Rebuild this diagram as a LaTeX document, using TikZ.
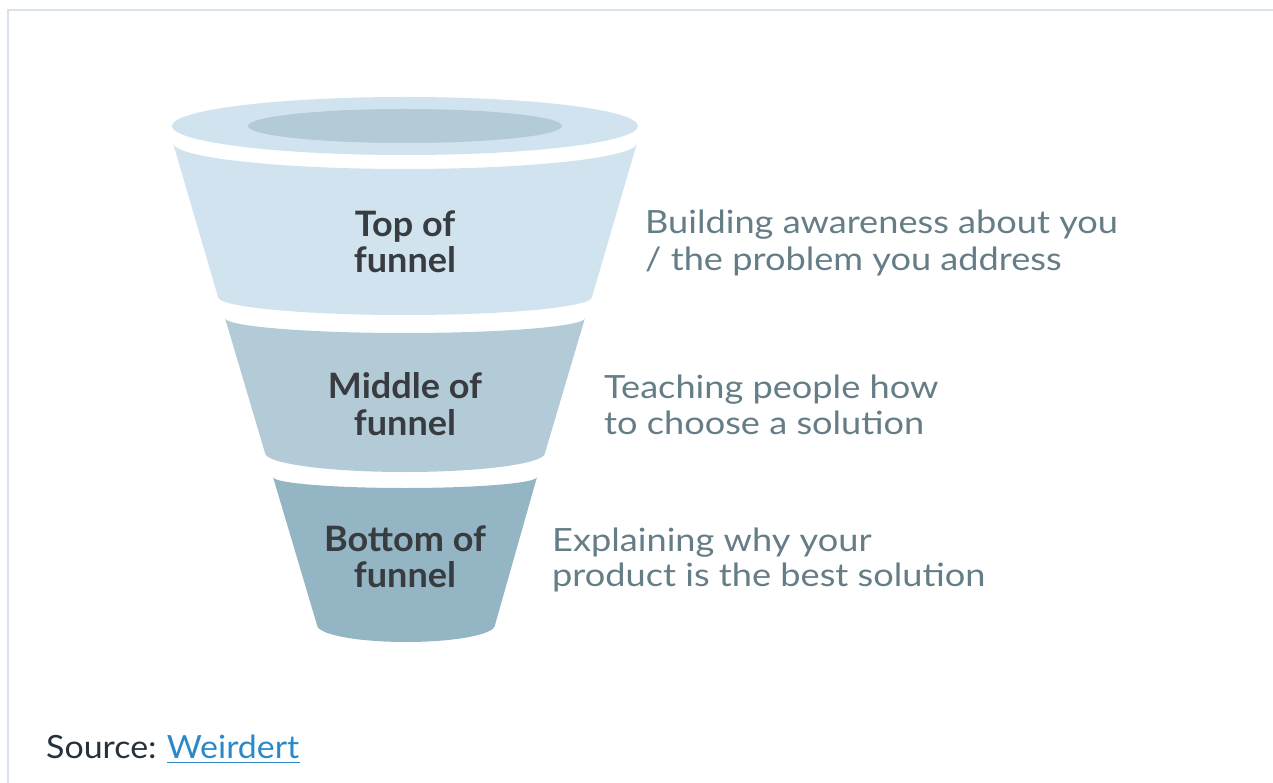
\documentclass[tikz,border=0pt]{standalone}
\usepackage{fontspec}
\setmainfont{Lato}
\newfontfamily\descfont[FakeStretch=1.13]{Lato}
\newfontfamily\stagefont[FakeStretch=1.03]{Lato Bold}
\newfontfamily\srcfont[FakeStretch=1.06]{Lato}
\definecolor{lightfun}{HTML}{D0E3EE}
\definecolor{midfun}{HTML}{B2CBD7}
\definecolor{darkfun}{HTML}{94B5C3}
\definecolor{labeltext}{HTML}{383B3F}
\definecolor{desctext}{HTML}{657D87}
\definecolor{framecol}{HTML}{D8E3EE}
\definecolor{srctext}{HTML}{26313B}
\definecolor{linkcol}{HTML}{2B89C9}
\tikzset{
  stagelabel/.style={anchor=base, inner sep=0pt, text=labeltext, font=\stagefont\fontsize{35}{36}\selectfont},
  desclabel/.style={anchor=base west, inner sep=0pt, text=desctext, font=\descfont\fontsize{32}{36}\selectfont},
  srclabel/.style={anchor=base west, inner sep=0pt, font=\srcfont\fontsize{32}{34}\selectfont},
}
\begin{document}
\begin{tikzpicture}[x=1pt,y=-1pt]
\useasboundingbox (0,0) rectangle (1273,783);
% frame
\draw[framecol, line width=1.5pt] (8,783) -- (8,10) -- (1273,10);
% rim
\fill[lightfun] (405,126) ellipse [x radius=233pt, y radius=29pt];
\fill[midfun] (405,126) ellipse [x radius=157pt, y radius=17pt];
% top section
\fill[lightfun] (173,143) arc[start angle=180, end angle=360, x radius=232pt, y radius=26pt]
  -- (592,297) arc[start angle=0, end angle=-180, x radius=187pt, y radius=18pt] -- cycle;
% middle section
\fill[midfun] (225,318) arc[start angle=180, end angle=360, x radius=180pt, y radius=15pt]
  -- (545,453) arc[start angle=0, end angle=-180, x radius=140pt, y radius=19pt] -- cycle;
% bottom section
\fill[darkfun] (273,477) arc[start angle=180, end angle=360, x radius=132pt, y radius=11pt]
  -- (495,625) arc[start angle=0, end angle=-180, x radius=89pt, y radius=17pt] -- cycle;
% stage labels
\node[stagelabel] (top1) at (405,237) {Top of};
\node[stagelabel] (top2) at (405,273) {funnel};
\node[stagelabel] (mid1) at (405,398) {Middle of};
\node[stagelabel] (mid2) at (405,435) {funnel};
\node[stagelabel] (bot1) at (405,551) {Bottom of};
\node[stagelabel] (bot2) at (405,587) {funnel};
% descriptions
\node[desclabel] (d1a) at (645,234) {Building awareness about you};
\node[desclabel] (d1b) at (645,271) {/ the problem you address};
\node[desclabel] (d2a) at (604,398) {Teaching people how};
\node[desclabel] (d2b) at (604,434) {to choose a solution};
\node[desclabel] (d3a) at (552,551) {Explaining why your};
\node[desclabel] (d3b) at (552,586) {product is the best solution};
% source
\node[srclabel, text=srctext] (src) at (46,758) {Source:};
\node[srclabel, text=linkcol, anchor=base west] (lnk) at ([xshift=10pt]src.base east) {Weirdert};
\draw[linkcol, line width=1.6pt] ([yshift=-4.5pt]lnk.base west) -- ([yshift=-4.5pt]lnk.base east);
\end{tikzpicture}
\end{document}
